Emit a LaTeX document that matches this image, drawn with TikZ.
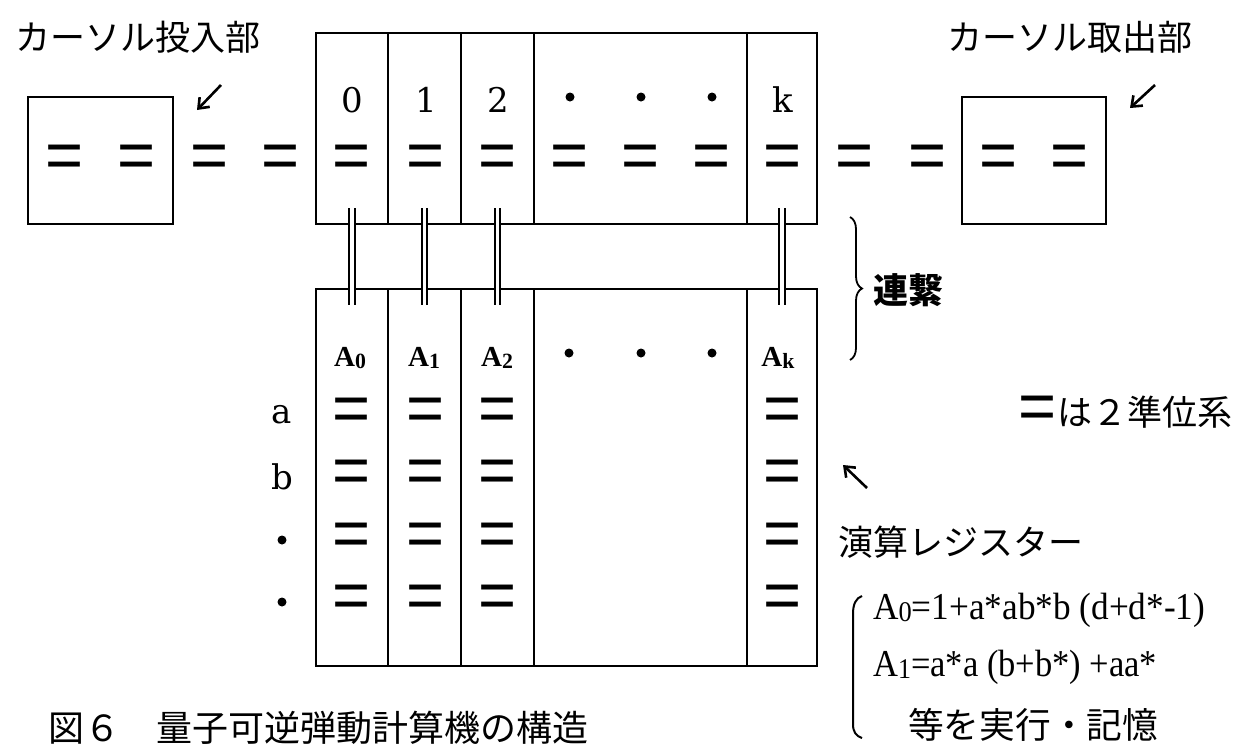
\documentclass[tikz,border=0pt]{standalone}
\usepackage{fontspec}
\usepackage{graphicx}
\usetikzlibrary{arrows.meta,decorations.pathreplacing}
\newfontfamily\jpf{Noto Sans CJK JP}
\newfontfamily\eqff{Liberation Sans}
\newfontfamily\serf{DejaVu Serif}
\newfontfamily\fmlf{Liberation Serif}
\newcommand\lowsub[1]{\raisebox{-0.05em}{\scalebox{0.75}{#1}}}
\newcommand\eqsym{\scalebox{1.05}[1.1]{=}}
\tikzset{
  cell/.style={draw, line width=2.8pt, rectangle, inner sep=0pt, outer sep=0pt, anchor=north west},
  eqs/.style={font=\eqff\fontsize{62}{62}\selectfont, inner sep=0pt},
  jt/.style={font=\jpf\fontsize{35}{40}\selectfont, inner sep=0pt, anchor=west},
  lab/.style={font=\serf\fontsize{34}{36}\selectfont, inner sep=0pt},
  alab/.style={font=\fmlf\bfseries\fontsize{29}{30}\selectfont, inner sep=0pt},
  dotm/.style={circle, fill, inner sep=0pt, minimum size=9pt},
  link/.style={double distance=3.2pt, line width=2pt},
  ptr/.style={line width=2.6pt, -{Straight Barb[length=9pt,width=14pt]}},
  fml/.style={font=\fmlf\fontsize{38}{40}\selectfont, inner sep=0pt, anchor=west},
}
\begin{document}
\begin{tikzpicture}[x=1pt,y=-1pt]
\useasboundingbox (0,0) rectangle (1235,745);
% cursor boxes
\node[cell, minimum width=145pt, minimum height=127pt] (CL) at (28,97) {};
\node[cell, minimum width=144pt, minimum height=127pt] (CR) at (962,97) {};
% top register cells
\node[cell, minimum width=72pt, minimum height=191pt] (T0) at (316,33) {};
\node[cell, minimum width=73pt, minimum height=191pt] (T1) at (388,33) {};
\node[cell, minimum width=73pt, minimum height=191pt] (T2) at (461,33) {};
\node[cell, minimum width=213pt, minimum height=191pt] (TD) at (534,33) {};
\node[cell, minimum width=70pt, minimum height=191pt] (TK) at (747,33) {};
% bottom register cells
\node[cell, minimum width=72pt, minimum height=377pt] (B0) at (316,289) {};
\node[cell, minimum width=73pt, minimum height=377pt] (B1) at (388,289) {};
\node[cell, minimum width=73pt, minimum height=377pt] (B2) at (461,289) {};
\node[cell, minimum width=213pt, minimum height=377pt] (BD) at (534,289) {};
\node[cell, minimum width=70pt, minimum height=377pt] (BK) at (747,289) {};
% links
\foreach \c in {0,1,2,K}{
  \draw[link] ([yshift=16pt]T\c.south) -- ([yshift=-16pt]B\c.north);
}
% top equals row
\foreach \x [count=\i] in {65,137,210,281,352,426,498,570,641,712,783,855,927,998,1069}{
  \node[eqs] (te\i) at (\x,162) {\eqsym};
}
% top labels
\node[lab] (n0) at (352,100) {0};
\node[lab] (n1) at (426,100) {1};
\node[lab] (n2) at (498,100) {2};
\node[lab] (nk) at (783,100) {k};
\node[dotm] (td1) at (570,97) {};
\node[dotm] (td2) at (641,97) {};
\node[dotm] (td3) at (712,97) {};
% bottom labels
\node[alab] (A0) at (350,358) {A\lowsub{0}};
\node[alab] (A1) at (424,358) {A\lowsub{1}};
\node[alab] (A2) at (497,358) {A\lowsub{2}};
\node[alab] (Ak) at (778,358) {A\lowsub{k}};
\node[dotm] (bd1) at (569,353) {};
\node[dotm] (bd2) at (641,353) {};
\node[dotm] (bd3) at (712,353) {};
% row labels
\node[lab] (ra) at (282,415) {a};
\node[lab] (rb) at (282,477) {b};
\node[dotm] (rc) at (282,540) {};
\node[dotm] (rd) at (282,602) {};
% bottom equals
\foreach \y [count=\j] in {415,477,540,602}{
  \foreach \x [count=\i] in {352,426,498,783}{
    \node[eqs] (be\j\i) at (\x,\y) {\eqsym};
  }
}
% texts
\node[jt] (tin) at (15,37) {カーソル投入部};
\node[jt] (tout) at (947,37) {カーソル取出部};
\node[jt, font=\jpf\bfseries\fontsize{35}{40}\selectfont] (tren) at (873,290) {連繋};
\node[jt] (tq) at (1018,413) {\raisebox{-4pt}{\eqff\fontsize{62}{62}\selectfont\eqsym}\hspace{1pt}は２準位系};
\node[jt] (treg) at (838,542) {演算レジスター};
\node[fml] (f1) at (873,610) {\resizebox{332pt}{\height}{A\lowsub{0}=1+a*ab*b (d+d*-1)}};
\node[fml] (f2) at (873,667) {\resizebox{284pt}{\height}{A\lowsub{1}=a*a (b+b*) +aa*}};
\node[jt, font=\jpf\fontsize{35.7}{40}\selectfont] (f3) at (908,725) {等を実行・記憶};
\node[jt, font=\jpf\fontsize{36}{40}\selectfont] (cap) at (48,728) {図６　量子可逆弾動計算機の構造};
% arrows
\coordinate (p1s) at (221,85); \coordinate (p1e) at (197,110);
\coordinate (p2s) at (1155,85); \coordinate (p2e) at (1130,108);
\coordinate (p3s) at (867,488); \coordinate (p3e) at (843,465);
\draw[ptr] (p1s) -- (p1e);
\draw[ptr] (p2s) -- (p2e);
\draw[ptr] (p3s) -- (p3e);
% brace
\coordinate (br1) at (850,217); \coordinate (br2) at (850,360);
\draw[decorate, decoration={brace, amplitude=12pt}, line width=1.8pt] (br1) -- (br2);
% big paren
\draw[line width=2pt] (862,596) .. controls (856,598) and (853,604) .. (853,614) -- (853,724) .. controls (853,732) and (856,736) .. (862,738);
\end{tikzpicture}
\end{document}
